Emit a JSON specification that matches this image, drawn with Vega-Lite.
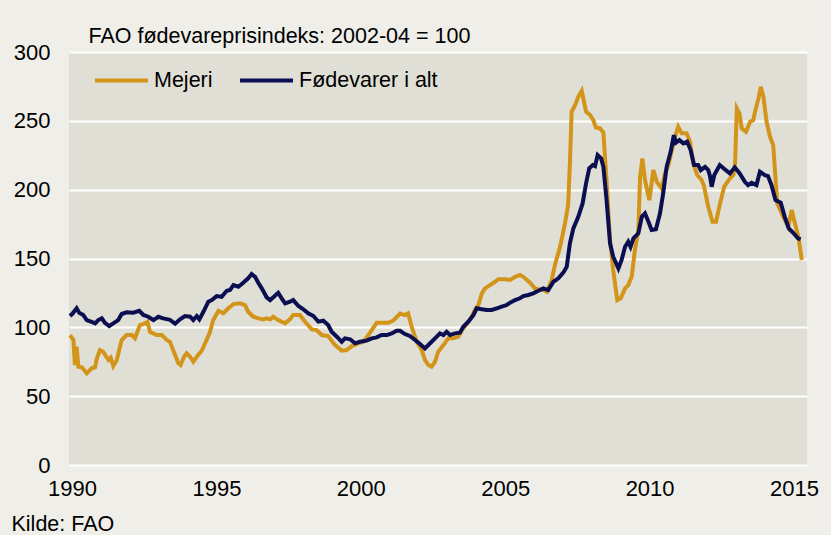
{
"$schema": "https://vega.github.io/schema/vega-lite/v6.json",
"width": 738, "height": 413,
"autosize": {"type": "none"},
"padding": {"left": 69, "top": 52, "right": 24, "bottom": 70},
"background": "#EFEEE8",
"config": {"view": {"fill": "#E0DFD5", "stroke": null}, "font": "Liberation Sans"},
"data": {"values": [
{"s":"Mejeri","t":1989.93,"v":94.4},{"s":"Mejeri","t":1990.05,"v":90.8},{"s":"Mejeri","t":1990.10,"v":72.6},{"s":"Mejeri","t":1990.16,"v":85.9},{"s":"Mejeri","t":1990.22,"v":71.4},{"s":"Mejeri","t":1990.34,"v":71},{"s":"Mejeri","t":1990.51,"v":66.6},{"s":"Mejeri","t":1990.68,"v":70.2},{"s":"Mejeri","t":1990.80,"v":71},{"s":"Mejeri","t":1990.86,"v":77.5},{"s":"Mejeri","t":1990.97,"v":83.5},{"s":"Mejeri","t":1991.08,"v":82.3},{"s":"Mejeri","t":1991.26,"v":76.3},{"s":"Mejeri","t":1991.34,"v":77.9},{"s":"Mejeri","t":1991.43,"v":71.9},{"s":"Mejeri","t":1991.55,"v":76.3},{"s":"Mejeri","t":1991.72,"v":90.8},{"s":"Mejeri","t":1991.89,"v":94.4},{"s":"Mejeri","t":1992.07,"v":94.4},{"s":"Mejeri","t":1992.18,"v":92},{"s":"Mejeri","t":1992.35,"v":101.7},{"s":"Mejeri","t":1992.53,"v":102.9},{"s":"Mejeri","t":1992.61,"v":104},{"s":"Mejeri","t":1992.70,"v":96.8},{"s":"Mejeri","t":1992.93,"v":94.4},{"s":"Mejeri","t":1993.11,"v":94.4},{"s":"Mejeri","t":1993.28,"v":90.8},{"s":"Mejeri","t":1993.39,"v":89.5},{"s":"Mejeri","t":1993.57,"v":80},{"s":"Mejeri","t":1993.68,"v":74},{"s":"Mejeri","t":1993.76,"v":72.6},{"s":"Mejeri","t":1993.88,"v":78.6},{"s":"Mejeri","t":1993.97,"v":81.1},{"s":"Mejeri","t":1994.09,"v":78.6},{"s":"Mejeri","t":1994.20,"v":75},{"s":"Mejeri","t":1994.32,"v":78.6},{"s":"Mejeri","t":1994.49,"v":83},{"s":"Mejeri","t":1994.66,"v":90.8},{"s":"Mejeri","t":1994.78,"v":96.8},{"s":"Mejeri","t":1994.89,"v":105.3},{"s":"Mejeri","t":1995.07,"v":112},{"s":"Mejeri","t":1995.24,"v":110.2},{"s":"Mejeri","t":1995.41,"v":113.8},{"s":"Mejeri","t":1995.59,"v":116.9},{"s":"Mejeri","t":1995.82,"v":117.4},{"s":"Mejeri","t":1995.99,"v":116.2},{"s":"Mejeri","t":1996.10,"v":111.3},{"s":"Mejeri","t":1996.28,"v":107.7},{"s":"Mejeri","t":1996.45,"v":106.5},{"s":"Mejeri","t":1996.62,"v":105.8},{"s":"Mejeri","t":1996.74,"v":106.5},{"s":"Mejeri","t":1996.86,"v":105.8},{"s":"Mejeri","t":1996.97,"v":107.7},{"s":"Mejeri","t":1997.14,"v":105.3},{"s":"Mejeri","t":1997.38,"v":102.9},{"s":"Mejeri","t":1997.55,"v":106},{"s":"Mejeri","t":1997.66,"v":108.9},{"s":"Mejeri","t":1997.89,"v":108.9},{"s":"Mejeri","t":1998.07,"v":104.1},{"s":"Mejeri","t":1998.30,"v":98.5},{"s":"Mejeri","t":1998.47,"v":98},{"s":"Mejeri","t":1998.65,"v":94.4},{"s":"Mejeri","t":1998.87,"v":93.7},{"s":"Mejeri","t":1999.11,"v":87.1},{"s":"Mejeri","t":1999.34,"v":83},{"s":"Mejeri","t":1999.51,"v":83.5},{"s":"Mejeri","t":1999.69,"v":86.4},{"s":"Mejeri","t":1999.91,"v":88.4},{"s":"Mejeri","t":2000.09,"v":89.5},{"s":"Mejeri","t":2000.32,"v":96.1},{"s":"Mejeri","t":2000.55,"v":103.3},{"s":"Mejeri","t":2000.72,"v":103.3},{"s":"Mejeri","t":2000.95,"v":103.3},{"s":"Mejeri","t":2001.13,"v":105},{"s":"Mejeri","t":2001.36,"v":110},{"s":"Mejeri","t":2001.53,"v":108.9},{"s":"Mejeri","t":2001.64,"v":110.2},{"s":"Mejeri","t":2001.76,"v":100.4},{"s":"Mejeri","t":2001.94,"v":89.5},{"s":"Mejeri","t":2002.11,"v":83.5},{"s":"Mejeri","t":2002.22,"v":76.3},{"s":"Mejeri","t":2002.34,"v":72.6},{"s":"Mejeri","t":2002.45,"v":71.4},{"s":"Mejeri","t":2002.57,"v":75},{"s":"Mejeri","t":2002.68,"v":82.3},{"s":"Mejeri","t":2002.86,"v":87.1},{"s":"Mejeri","t":2003.03,"v":92},{"s":"Mejeri","t":2003.20,"v":92},{"s":"Mejeri","t":2003.38,"v":93.2},{"s":"Mejeri","t":2003.55,"v":99.3},{"s":"Mejeri","t":2003.78,"v":105.3},{"s":"Mejeri","t":2003.95,"v":112.6},{"s":"Mejeri","t":2004.07,"v":116.2},{"s":"Mejeri","t":2004.19,"v":124.7},{"s":"Mejeri","t":2004.30,"v":128.3},{"s":"Mejeri","t":2004.47,"v":130.7},{"s":"Mejeri","t":2004.65,"v":133.1},{"s":"Mejeri","t":2004.76,"v":134.9},{"s":"Mejeri","t":2004.99,"v":134.9},{"s":"Mejeri","t":2005.17,"v":134.4},{"s":"Mejeri","t":2005.34,"v":136.7},{"s":"Mejeri","t":2005.51,"v":138},{"s":"Mejeri","t":2005.63,"v":136.7},{"s":"Mejeri","t":2005.86,"v":132.4},{"s":"Mejeri","t":2006.03,"v":128.3},{"s":"Mejeri","t":2006.15,"v":127.6},{"s":"Mejeri","t":2006.32,"v":127.1},{"s":"Mejeri","t":2006.44,"v":125.8},{"s":"Mejeri","t":2006.61,"v":134.4},{"s":"Mejeri","t":2006.72,"v":145.2},{"s":"Mejeri","t":2006.90,"v":158.5},{"s":"Mejeri","t":2007.07,"v":175.5},{"s":"Mejeri","t":2007.18,"v":188.8},{"s":"Mejeri","t":2007.24,"v":219.1},{"s":"Mejeri","t":2007.30,"v":256.6},{"s":"Mejeri","t":2007.42,"v":261.4},{"s":"Mejeri","t":2007.53,"v":267.5},{"s":"Mejeri","t":2007.65,"v":271.8},{"s":"Mejeri","t":2007.80,"v":256.6},{"s":"Mejeri","t":2007.94,"v":254.2},{"s":"Mejeri","t":2008.05,"v":250.5},{"s":"Mejeri","t":2008.14,"v":245.2},{"s":"Mejeri","t":2008.28,"v":244.5},{"s":"Mejeri","t":2008.40,"v":241.5},{"s":"Mejeri","t":2008.51,"v":206},{"s":"Mejeri","t":2008.63,"v":163.4},{"s":"Mejeri","t":2008.74,"v":141.6},{"s":"Mejeri","t":2008.88,"v":119.8},{"s":"Mejeri","t":2009.00,"v":121.1},{"s":"Mejeri","t":2009.15,"v":128.3},{"s":"Mejeri","t":2009.26,"v":130.7},{"s":"Mejeri","t":2009.38,"v":136.7},{"s":"Mejeri","t":2009.49,"v":156.1},{"s":"Mejeri","t":2009.61,"v":170.7},{"s":"Mejeri","t":2009.67,"v":209.4},{"s":"Mejeri","t":2009.75,"v":222.7},{"s":"Mejeri","t":2009.84,"v":207},{"s":"Mejeri","t":2009.99,"v":192.4},{"s":"Mejeri","t":2010.13,"v":214.2},{"s":"Mejeri","t":2010.25,"v":205.7},{"s":"Mejeri","t":2010.42,"v":200.9},{"s":"Mejeri","t":2010.53,"v":211.8},{"s":"Mejeri","t":2010.65,"v":217.9},{"s":"Mejeri","t":2010.77,"v":228.8},{"s":"Mejeri","t":2010.88,"v":238.4},{"s":"Mejeri","t":2010.99,"v":245.7},{"s":"Mejeri","t":2011.11,"v":240.9},{"s":"Mejeri","t":2011.28,"v":240.9},{"s":"Mejeri","t":2011.40,"v":234.8},{"s":"Mejeri","t":2011.51,"v":219.1},{"s":"Mejeri","t":2011.65,"v":210.6},{"s":"Mejeri","t":2011.80,"v":207},{"s":"Mejeri","t":2011.88,"v":203},{"s":"Mejeri","t":2012.03,"v":187.6},{"s":"Mejeri","t":2012.18,"v":176.7},{"s":"Mejeri","t":2012.30,"v":176.7},{"s":"Mejeri","t":2012.44,"v":190},{"s":"Mejeri","t":2012.58,"v":202.1},{"s":"Mejeri","t":2012.78,"v":208.2},{"s":"Mejeri","t":2012.90,"v":210.6},{"s":"Mejeri","t":2012.96,"v":219.1},{"s":"Mejeri","t":2013.02,"v":259},{"s":"Mejeri","t":2013.11,"v":255.4},{"s":"Mejeri","t":2013.19,"v":244.5},{"s":"Mejeri","t":2013.34,"v":242.1},{"s":"Mejeri","t":2013.48,"v":249.3},{"s":"Mejeri","t":2013.59,"v":250.5},{"s":"Mejeri","t":2013.65,"v":256.6},{"s":"Mejeri","t":2013.77,"v":266.3},{"s":"Mejeri","t":2013.85,"v":274.7},{"s":"Mejeri","t":2013.94,"v":267.5},{"s":"Mejeri","t":2014.05,"v":249.3},{"s":"Mejeri","t":2014.17,"v":238.4},{"s":"Mejeri","t":2014.28,"v":232.4},{"s":"Mejeri","t":2014.42,"v":190},{"s":"Mejeri","t":2014.63,"v":180.3},{"s":"Mejeri","t":2014.80,"v":173.1},{"s":"Mejeri","t":2014.92,"v":185.2},{"s":"Mejeri","t":2015.03,"v":175.5},{"s":"Mejeri","t":2015.15,"v":165.8},{"s":"Mejeri","t":2015.27,"v":148.9},
{"s":"Fødevarer i alt","t":1989.93,"v":108.2},{"s":"Fødevarer i alt","t":1990.02,"v":110},{"s":"Fødevarer i alt","t":1990.16,"v":113.8},{"s":"Fødevarer i alt","t":1990.25,"v":110.6},{"s":"Fødevarer i alt","t":1990.39,"v":109},{"s":"Fødevarer i alt","t":1990.51,"v":105.3},{"s":"Fødevarer i alt","t":1990.68,"v":104},{"s":"Fødevarer i alt","t":1990.80,"v":102.9},{"s":"Fødevarer i alt","t":1990.91,"v":105.3},{"s":"Fødevarer i alt","t":1991.03,"v":106.5},{"s":"Fødevarer i alt","t":1991.14,"v":103.3},{"s":"Fødevarer i alt","t":1991.29,"v":100.9},{"s":"Fødevarer i alt","t":1991.43,"v":102.9},{"s":"Fødevarer i alt","t":1991.60,"v":105.3},{"s":"Fødevarer i alt","t":1991.72,"v":109.7},{"s":"Fødevarer i alt","t":1991.89,"v":110.9},{"s":"Fødevarer i alt","t":1992.12,"v":110.6},{"s":"Fødevarer i alt","t":1992.33,"v":112},{"s":"Fødevarer i alt","t":1992.47,"v":109},{"s":"Fødevarer i alt","t":1992.64,"v":107.7},{"s":"Fødevarer i alt","t":1992.82,"v":105.3},{"s":"Fødevarer i alt","t":1992.99,"v":107.7},{"s":"Fødevarer i alt","t":1993.16,"v":106.5},{"s":"Fødevarer i alt","t":1993.39,"v":105.5},{"s":"Fødevarer i alt","t":1993.57,"v":102.6},{"s":"Fødevarer i alt","t":1993.74,"v":105.8},{"s":"Fødevarer i alt","t":1993.91,"v":108.2},{"s":"Fødevarer i alt","t":1994.09,"v":107.7},{"s":"Fødevarer i alt","t":1994.20,"v":105.3},{"s":"Fødevarer i alt","t":1994.32,"v":108.2},{"s":"Fødevarer i alt","t":1994.41,"v":105.8},{"s":"Fødevarer i alt","t":1994.55,"v":111.3},{"s":"Fødevarer i alt","t":1994.72,"v":118.6},{"s":"Fødevarer i alt","t":1994.84,"v":119.8},{"s":"Fødevarer i alt","t":1995.01,"v":122.7},{"s":"Fødevarer i alt","t":1995.18,"v":122.2},{"s":"Fødevarer i alt","t":1995.36,"v":126.6},{"s":"Fødevarer i alt","t":1995.47,"v":127.1},{"s":"Fødevarer i alt","t":1995.59,"v":130.7},{"s":"Fødevarer i alt","t":1995.76,"v":129.5},{"s":"Fødevarer i alt","t":1995.93,"v":132.4},{"s":"Fødevarer i alt","t":1996.10,"v":135.6},{"s":"Fødevarer i alt","t":1996.22,"v":138.7},{"s":"Fødevarer i alt","t":1996.34,"v":136.7},{"s":"Fødevarer i alt","t":1996.45,"v":132.4},{"s":"Fødevarer i alt","t":1996.57,"v":128.3},{"s":"Fødevarer i alt","t":1996.74,"v":121.8},{"s":"Fødevarer i alt","t":1996.86,"v":119.8},{"s":"Fødevarer i alt","t":1996.99,"v":122.2},{"s":"Fødevarer i alt","t":1997.14,"v":125.1},{"s":"Fødevarer i alt","t":1997.26,"v":121.1},{"s":"Fødevarer i alt","t":1997.38,"v":117.4},{"s":"Fødevarer i alt","t":1997.55,"v":118.6},{"s":"Fødevarer i alt","t":1997.66,"v":119.8},{"s":"Fødevarer i alt","t":1997.84,"v":115.5},{"s":"Fødevarer i alt","t":1998.01,"v":113.1},{"s":"Fødevarer i alt","t":1998.18,"v":110.2},{"s":"Fødevarer i alt","t":1998.36,"v":108.2},{"s":"Fødevarer i alt","t":1998.53,"v":104.1},{"s":"Fødevarer i alt","t":1998.70,"v":104.8},{"s":"Fødevarer i alt","t":1998.87,"v":101.7},{"s":"Fødevarer i alt","t":1998.99,"v":96.8},{"s":"Fødevarer i alt","t":1999.17,"v":93.2},{"s":"Fødevarer i alt","t":1999.34,"v":89.5},{"s":"Fødevarer i alt","t":1999.45,"v":92},{"s":"Fødevarer i alt","t":1999.63,"v":91.3},{"s":"Fødevarer i alt","t":1999.80,"v":88.4},{"s":"Fødevarer i alt","t":1999.97,"v":89.5},{"s":"Fødevarer i alt","t":2000.20,"v":90.3},{"s":"Fødevarer i alt","t":2000.38,"v":92},{"s":"Fødevarer i alt","t":2000.55,"v":92.7},{"s":"Fødevarer i alt","t":2000.72,"v":94.4},{"s":"Fødevarer i alt","t":2000.90,"v":94.4},{"s":"Fødevarer i alt","t":2001.07,"v":95.6},{"s":"Fødevarer i alt","t":2001.24,"v":97.5},{"s":"Fødevarer i alt","t":2001.36,"v":97.5},{"s":"Fødevarer i alt","t":2001.53,"v":95.1},{"s":"Fødevarer i alt","t":2001.70,"v":93.7},{"s":"Fødevarer i alt","t":2001.88,"v":90.8},{"s":"Fødevarer i alt","t":2002.05,"v":87.9},{"s":"Fødevarer i alt","t":2002.22,"v":84.7},{"s":"Fødevarer i alt","t":2002.40,"v":88.4},{"s":"Fødevarer i alt","t":2002.57,"v":92},{"s":"Fødevarer i alt","t":2002.74,"v":95.6},{"s":"Fødevarer i alt","t":2002.86,"v":94.4},{"s":"Fødevarer i alt","t":2002.97,"v":96.8},{"s":"Fødevarer i alt","t":2003.09,"v":94.4},{"s":"Fødevarer i alt","t":2003.26,"v":95.6},{"s":"Fødevarer i alt","t":2003.43,"v":96.1},{"s":"Fødevarer i alt","t":2003.55,"v":100.4},{"s":"Fødevarer i alt","t":2003.72,"v":104.1},{"s":"Fødevarer i alt","t":2003.90,"v":108.9},{"s":"Fødevarer i alt","t":2004.01,"v":113.8},{"s":"Fødevarer i alt","t":2004.19,"v":113.1},{"s":"Fødevarer i alt","t":2004.36,"v":112.6},{"s":"Fødevarer i alt","t":2004.53,"v":112.6},{"s":"Fødevarer i alt","t":2004.71,"v":113.8},{"s":"Fødevarer i alt","t":2004.88,"v":115},{"s":"Fødevarer i alt","t":2005.05,"v":116.2},{"s":"Fødevarer i alt","t":2005.17,"v":117.9},{"s":"Fødevarer i alt","t":2005.34,"v":119.8},{"s":"Fødevarer i alt","t":2005.51,"v":121.1},{"s":"Fødevarer i alt","t":2005.63,"v":122.7},{"s":"Fødevarer i alt","t":2005.80,"v":123.5},{"s":"Fødevarer i alt","t":2005.97,"v":124.7},{"s":"Fødevarer i alt","t":2006.15,"v":126.6},{"s":"Fødevarer i alt","t":2006.32,"v":128.3},{"s":"Fødevarer i alt","t":2006.49,"v":127.1},{"s":"Fødevarer i alt","t":2006.67,"v":133.1},{"s":"Fødevarer i alt","t":2006.84,"v":135.6},{"s":"Fødevarer i alt","t":2007.01,"v":139.7},{"s":"Fødevarer i alt","t":2007.13,"v":144},{"s":"Fødevarer i alt","t":2007.24,"v":161},{"s":"Fødevarer i alt","t":2007.36,"v":171.9},{"s":"Fødevarer i alt","t":2007.53,"v":180.3},{"s":"Fødevarer i alt","t":2007.68,"v":190},{"s":"Fødevarer i alt","t":2007.80,"v":204.6},{"s":"Fødevarer i alt","t":2007.91,"v":215.5},{"s":"Fødevarer i alt","t":2008.03,"v":217.9},{"s":"Fødevarer i alt","t":2008.11,"v":217.1},{"s":"Fødevarer i alt","t":2008.20,"v":225.1},{"s":"Fødevarer i alt","t":2008.32,"v":222.7},{"s":"Fødevarer i alt","t":2008.40,"v":216.6},{"s":"Fødevarer i alt","t":2008.51,"v":192.4},{"s":"Fødevarer i alt","t":2008.63,"v":161},{"s":"Fødevarer i alt","t":2008.74,"v":151.3},{"s":"Fødevarer i alt","t":2008.92,"v":142.8},{"s":"Fødevarer i alt","t":2009.03,"v":148.9},{"s":"Fødevarer i alt","t":2009.15,"v":158.5},{"s":"Fødevarer i alt","t":2009.26,"v":162.2},{"s":"Fødevarer i alt","t":2009.34,"v":158.5},{"s":"Fødevarer i alt","t":2009.44,"v":164.6},{"s":"Fødevarer i alt","t":2009.61,"v":168.3},{"s":"Fødevarer i alt","t":2009.73,"v":180.3},{"s":"Fødevarer i alt","t":2009.84,"v":182.8},{"s":"Fødevarer i alt","t":2009.96,"v":176.7},{"s":"Fødevarer i alt","t":2010.07,"v":170.7},{"s":"Fødevarer i alt","t":2010.22,"v":171.2},{"s":"Fødevarer i alt","t":2010.36,"v":182.8},{"s":"Fødevarer i alt","t":2010.47,"v":197.3},{"s":"Fødevarer i alt","t":2010.59,"v":216.6},{"s":"Fødevarer i alt","t":2010.73,"v":227.5},{"s":"Fødevarer i alt","t":2010.84,"v":239.6},{"s":"Fødevarer i alt","t":2010.91,"v":234.1},{"s":"Fødevarer i alt","t":2011.03,"v":236},{"s":"Fødevarer i alt","t":2011.17,"v":233.6},{"s":"Fødevarer i alt","t":2011.30,"v":234.8},{"s":"Fødevarer i alt","t":2011.42,"v":228.8},{"s":"Fødevarer i alt","t":2011.54,"v":217.9},{"s":"Fødevarer i alt","t":2011.68,"v":217.9},{"s":"Fødevarer i alt","t":2011.77,"v":214.2},{"s":"Fødevarer i alt","t":2011.92,"v":216.6},{"s":"Fødevarer i alt","t":2012.03,"v":214.2},{"s":"Fødevarer i alt","t":2012.09,"v":210},{"s":"Fødevarer i alt","t":2012.15,"v":202.1},{"s":"Fødevarer i alt","t":2012.24,"v":210.6},{"s":"Fødevarer i alt","t":2012.43,"v":217.9},{"s":"Fødevarer i alt","t":2012.61,"v":214.7},{"s":"Fødevarer i alt","t":2012.78,"v":211.8},{"s":"Fødevarer i alt","t":2012.95,"v":216.2},{"s":"Fødevarer i alt","t":2013.12,"v":211.8},{"s":"Fødevarer i alt","t":2013.30,"v":205.7},{"s":"Fødevarer i alt","t":2013.41,"v":203.3},{"s":"Fødevarer i alt","t":2013.53,"v":205},{"s":"Fødevarer i alt","t":2013.70,"v":203.3},{"s":"Fødevarer i alt","t":2013.82,"v":213},{"s":"Fødevarer i alt","t":2013.99,"v":210.6},{"s":"Fødevarer i alt","t":2014.10,"v":209.9},{"s":"Fødevarer i alt","t":2014.22,"v":203.3},{"s":"Fødevarer i alt","t":2014.36,"v":192.4},{"s":"Fødevarer i alt","t":2014.54,"v":190.5},{"s":"Fødevarer i alt","t":2014.68,"v":180.3},{"s":"Fødevarer i alt","t":2014.82,"v":171.9},{"s":"Fødevarer i alt","t":2014.97,"v":168.7},{"s":"Fødevarer i alt","t":2015.14,"v":164.6},{"s":"Fødevarer i alt","t":2015.23,"v":163.9}
]},
"mark": {"type": "line", "strokeWidth": 4},
"encoding": {
  "x": {"field": "t", "type": "quantitative",
    "scale": {"domain": [1989.896, 2015.45], "nice": false, "zero": false},
    "axis": {"values": [1990, 1995, 2000, 2005, 2010, 2015], "format": "d", "grid": false, "ticks": false, "domain": false,
      "labelFontSize": 22, "labelColor": "#000000", "labelPadding": 13, "labelFlush": false,
      "title": "Kilde: FAO", "titleX": -58, "titleY": 65, "titleAlign": "left", "titleBaseline": "alphabetic",
      "titleFontWeight": "normal", "titleFontSize": 21.5, "titleColor": "#000000"}},
  "y": {"field": "v", "type": "quantitative",
    "scale": {"domain": [0, 300], "nice": false},
    "axis": {"values": [0, 50, 100, 150, 200, 250, 300], "grid": true, "gridColor": "#FFFFFF", "gridWidth": 2, "gridOpacity": 1,
      "ticks": false, "domain": false, "labelFontSize": 22, "labelColor": "#000000", "labelPadding": 19, "labelFlush": false,
      "title": "FAO fødevareprisindeks: 2002-04 = 100", "titleAngle": 0, "titleX": 19, "titleY": -10,
      "titleAlign": "left", "titleBaseline": "alphabetic", "titleFontWeight": "normal", "titleFontSize": 21.5, "titleColor": "#000000"}},
  "color": {"field": "s", "type": "nominal",
    "scale": {"domain": ["Mejeri", "Fødevarer i alt"], "range": ["#D3941A", "#0B0E50"]},
    "legend": {"title": null, "orient": "none", "legendX": 24, "legendY": 0, "direction": "horizontal",
      "symbolType": "stroke", "symbolSize": 2809, "symbolStrokeWidth": 4, "labelFontSize": 21.5, "labelOffset": 4,
      "columnPadding": 19, "padding": 0, "labelColor": "#000000"}}
}
}
